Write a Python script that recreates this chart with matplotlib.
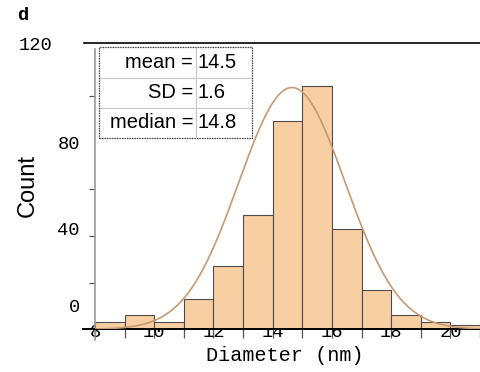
import numpy as np
import matplotlib
matplotlib.use("Agg")
import matplotlib.pyplot as plt
from matplotlib.transforms import ScaledTranslation

# histogram of particle diameters (nm), 1 nm bins
bin_edges = [8, 9, 10, 11, 12, 13, 14, 15, 16, 17, 18, 19, 20, 21]
counts = [3, 6, 3, 13, 27, 49, 89, 104, 43, 17, 6, 3, 2]

# fitted normal curve
fit_mean = 14.65
fit_sd = 1.8
fit_peak = 103.5

# summary table
stat_names = ["mean =", "SD =", "median ="]
stat_values = ["14.5", "1.6", "14.8"]

xtick_major = [8, 10, 12, 14, 16, 18, 20]
ytick_marks = [20, 40, 60, 80, 100]
ytick_label_pos = [10, 43, 80, 122.5]
ytick_labels = ["0", "40", "80", "120"]

mono = "Liberation Mono"
sans = "Liberation Sans"

fig = plt.figure(figsize=(4.8, 3.72), dpi=100)
ax = fig.add_axes([0.198, 0.115, 0.802, 0.769])

widths = np.diff(bin_edges)
ax.bar(bin_edges[:-1], counts, width=widths, align="edge",
       color="#f8cfa3", edgecolor="#4d4d4d", linewidth=0.8, zorder=2)

xs = np.linspace(bin_edges[0], bin_edges[-1], 300)
ys = fit_peak * np.exp(-0.5 * ((xs - fit_mean) / fit_sd) ** 2)
ax.plot(xs, ys, color="#c39a74", linewidth=1.2, zorder=3)

ax.set_xlim(8, 21)
ax.set_ylim(0, 120)

# spines
ax.spines["right"].set_visible(False)
ax.spines["top"].set_color("black")
ax.spines["top"].set_linewidth(1.2)
ax.spines["top"].set_bounds(7.63, 21)
ax.spines["bottom"].set_color("black")
ax.spines["bottom"].set_linestyle((0, (1, 1)))
ax.spines["bottom"].set_linewidth(1.4)
ax.spines["bottom"].set_bounds(7.6, 21)
ax.spines["left"].set_color("#9a9a9a")
ax.spines["left"].set_linewidth(1.2)
ax.spines["left"].set_bounds(-4.5, 120)

# x ticks: marks every nm, labels on even values, drawn over the axis
ax.set_xticks(xtick_major)
ax.set_xticklabels([str(v) for v in xtick_major])
ax.set_xticks(bin_edges, minor=True)
ax.tick_params(axis="x", which="both", direction="out", length=6.5,
               width=0.9, color="#555555")
ax.tick_params(axis="x", which="major", pad=-10.5, labelsize=13.5)

# y ticks: marks every 20, labels sit apart from them
ax.set_yticks(ytick_label_pos)
ax.set_yticklabels(ytick_labels)
ax.set_yticks(ytick_marks, minor=True)
ax.tick_params(axis="y", which="major", length=0, pad=11, labelsize=13.5)
ax.tick_params(axis="y", which="minor", direction="out", length=4.5,
               width=0.9, color="#555555")
lbl120 = ax.get_yticklabels()[-1]
lbl120.set_transform(lbl120.get_transform()
                     + ScaledTranslation(-0.27, 0, fig.dpi_scale_trans))

for lbl in ax.get_xticklabels() + ax.get_yticklabels():
    lbl.set_fontfamily(mono)

ax.set_xlabel("Diameter (nm)", fontfamily=mono, fontsize=14.5)
ax.xaxis.set_label_coords(0.494, -0.06)
ax.set_ylabel("Count", fontfamily=sans, fontsize=17)
ax.yaxis.set_label_coords(-0.145, 0.504)

fig.text(0.036, 0.945, "d", fontfamily=mono, fontweight="bold", fontsize=13.5)

# stats table
cells = [[n, v] for n, v in zip(stat_names, stat_values)]
tbl = ax.table(cellText=cells, bbox=[0.011, 0.669, 0.396, 0.316],
               colWidths=[0.251, 0.145], zorder=5)
tbl.auto_set_font_size(False)
for (r, c), cell in tbl.get_celld().items():
    cell.set_edgecolor("#c8c8c8")
    cell.set_linewidth(0.8)
    cell.set_facecolor("white")
    cell.PAD = 0.03
    cell.get_text().set_fontfamily(sans)
    cell.get_text().set_fontsize(14.5)
    cell.get_text().set_horizontalalignment("right" if c == 0 else "left")
ax.add_patch(plt.Rectangle((0.011, 0.669), 0.396, 0.316, transform=ax.transAxes,
                           fill=False, edgecolor="#444444", linewidth=0.9,
                           linestyle=(0, (1, 1)), zorder=6))

fig.savefig("out.png", dpi=100)
